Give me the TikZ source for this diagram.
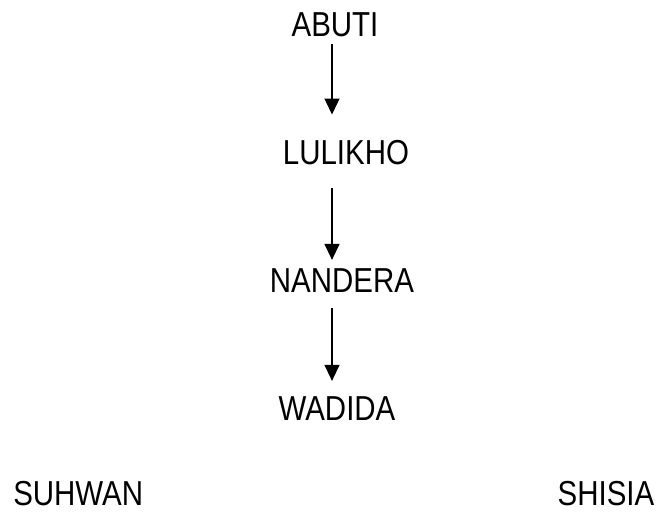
\documentclass[tikz,border=0pt]{standalone}
\usepackage{fontspec}
\setmainfont[FakeStretch=0.85]{Liberation Sans}
\usetikzlibrary{arrows.meta}

\begin{document}
\begin{tikzpicture}[x=0.75pt,y=-0.75pt,
    clan/.style={anchor=base,inner sep=0pt,font=\fontsize{26}{30}\selectfont},
    descent/.style={line width=1pt,-{Triangle[width=11.25pt,length=12pt]}}]
  \useasboundingbox (0,0) rectangle (658,513);
  % lineage, one step per row
  \foreach \nm/\x/\y/\txt in {
    abuti/335/37/ABUTI,
    lulikho/346/165/LULIKHO,
    nandera/342/293/NANDERA,
    wadida/337/421/WADIDA} {
    \node[clan] (\nm) at (\x,\y) {\txt};
  }
  \node[clan,anchor=base west] (suhwan) at (13,506) {SUHWAN};
  \node[clan] (shisia) at (606,506) {SHISIA};
  \coordinate (col) at (332,0);
  \draw[descent,shorten <=4.5pt,shorten >=19.5pt] (abuti.south -| col) -- (lulikho.north -| col);
  \draw[descent,shorten <=16.5pt,shorten >=6.75pt] (lulikho.south -| col) -- (nandera.north -| col);
  \draw[descent,shorten <=11.25pt,shorten >=12pt] (nandera.south -| col) -- (wadida.north -| col);
\end{tikzpicture}
\end{document}
